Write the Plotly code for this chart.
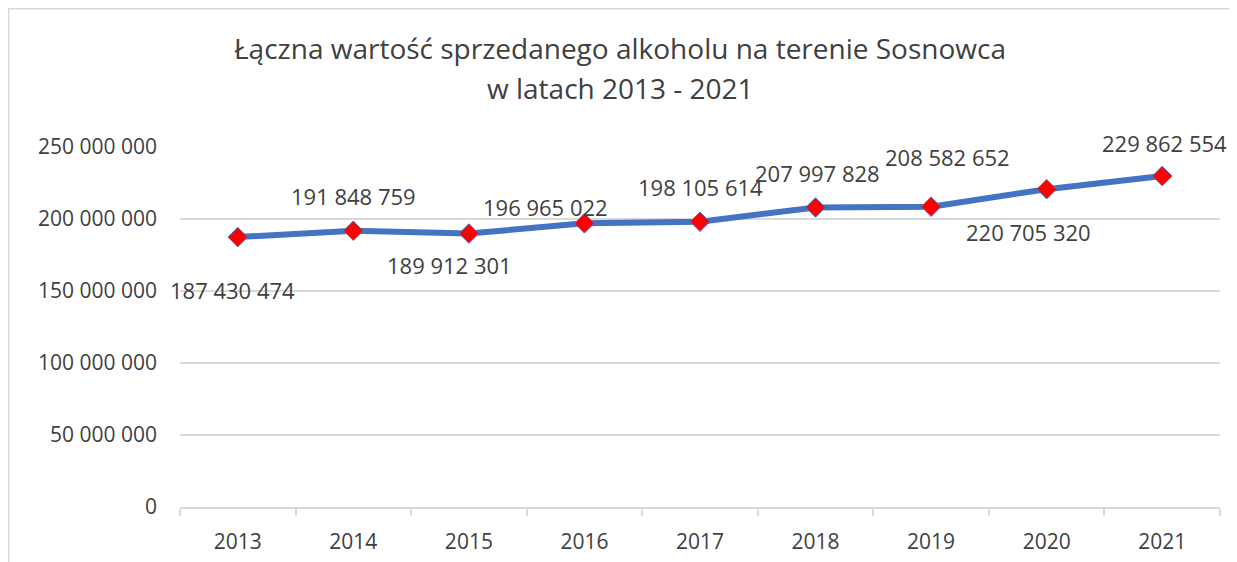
import plotly.graph_objects as go

years = ["2013", "2014", "2015", "2016", "2017", "2018", "2019", "2020", "2021"]
values = [187430474, 191848759, 189912301, 196965022, 198105614,
          207997828, 208582652, 220705320, 229862554]
label_dx = [-5, 0, -19, -39, 0, 2, 16, -18, 2]
label_dy = [-53, 35, -31, 16, 35, 34, 50, -43, 33]
title_lines = ["Łączna wartość sprzedanego alkoholu na terenie Sosnowca",
               "w latach 2013 - 2021"]

TXT = "#404040"
GRID = "#d9d9d9"
FONT = "Open Sans"

# page has an 8px body margin; compensate so the figure lands like the reference
W, H = 1229, 554
L, R, T, B = 172, 17, 139, 55
PW, PH = W - L - R, H - T - B

fig = go.Figure()
fig.add_trace(go.Scatter(
    x=years, y=values, mode="lines+markers",
    line=dict(color="#4472C4", width=6),
    marker=dict(symbol="diamond", size=15, color="#FF0000",
                line=dict(color="#4472C4", width=1)),
    hoverinfo="skip",
))

def fmt(v):
    return f"{v:,}".replace(",", " ")

for i, (v, dx, dy) in enumerate(zip(values, label_dx, label_dy)):
    fig.add_annotation(x=i, y=v, xref="x", yref="y", text=fmt(v),
                       showarrow=False, xshift=dx, yshift=dy,
                       font=dict(family=FONT, size=22, color=TXT))

# title lines
for txt, ypix in zip(title_lines, [40, 80]):
    fig.add_annotation(x=(612 - L) / PW, y=(T + PH - ypix) / PH,
                       xref="paper", yref="paper", text=txt, showarrow=False,
                       xanchor="center", yanchor="middle",
                       font=dict(family=FONT, size=28, color=TXT))

# chart frame
fig.add_shape(type="rect", xref="paper", yref="paper",
              x0=(0.75 - L) / PW, x1=(1226 - L) / PW,
              y0=-0.3, y1=(T + PH - 0.75) / PH,
              line=dict(color=GRID, width=1.5), fillcolor="rgba(0,0,0,0)",
              layer="below")

fig.update_layout(
    width=W, height=H,
    margin=dict(l=L, r=R, t=T, b=B),
    paper_bgcolor="white", plot_bgcolor="white",
    separators=", ",
    showlegend=False,
    font=dict(family=FONT, color=TXT, size=21),
    xaxis=dict(type="category", range=[-0.5, 8.5], tickson="boundaries",
               showgrid=False, showline=True, linecolor=GRID, linewidth=1.5,
               ticks="outside", ticklen=7, tickcolor=GRID, tickwidth=1.5,
               ticklabelstandoff=15, automargin=False,
               tickfont=dict(family=FONT, size=21, color=TXT), fixedrange=True),
    yaxis=dict(range=[0, 250000000], dtick=50000000, tickformat=",d",
               showgrid=True, gridcolor=GRID, gridwidth=1.5, zeroline=False,
               showline=False, ticks="", ticklabelstandoff=22, automargin=False,
               tickfont=dict(family=FONT, size=21, color=TXT), fixedrange=True),
)

fig.write_html("out.html")
